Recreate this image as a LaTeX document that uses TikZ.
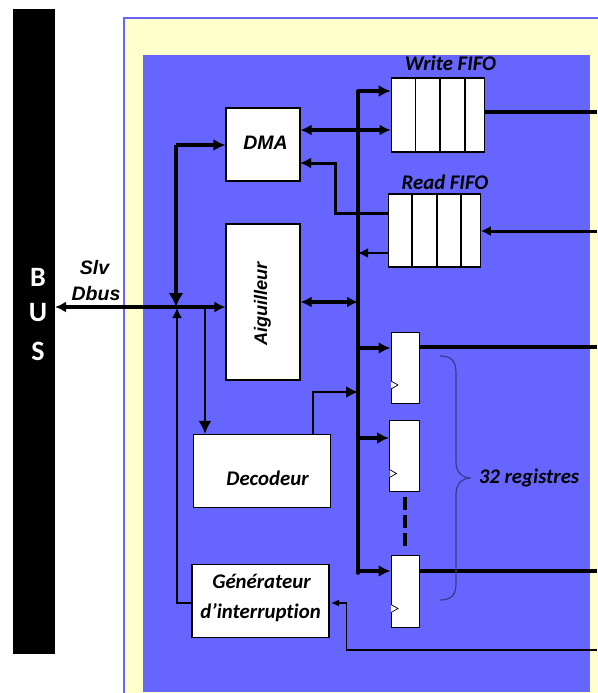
\documentclass[tikz,border=0pt]{standalone}
\usepackage{fontspec}
\setmainfont{Carlito}[Ligatures=NoCommon]
\newfontfamily\arialfont{Liberation Sans}
\usetikzlibrary{arrows.meta}
\definecolor{socblue}{HTML}{6666FF}
\definecolor{socyellow}{HTML}{FFFFCC}
\definecolor{bracegray}{HTML}{3A3A8C}
\tikzset{
  blockbox/.style={draw=black,fill=white,line width=1.1pt,inner sep=0pt,font=\fontsize{20.8}{22}\bfseries\itshape},
  regbox/.style={draw=black,fill=white,line width=0.9pt,inner sep=0pt},
  biglink/.style={line width=3.6pt,-{Latex[length=12pt,width=12pt]}},
  bothlink/.style={line width=3.4pt,{Latex[length=11pt,width=11pt]}-{Latex[length=11pt,width=11pt]}},
  thinlink/.style={line width=1.5pt,-{Latex[length=8pt,width=7pt]}},
  plainlink/.style={line width=3.6pt},
  caption/.style={font=\fontsize{20.8}{22}\bfseries\itshape,inner sep=0pt},
  buslabel/.style={font=\fontsize{28}{28}\bfseries,text=white,inner sep=0pt},
  armlabel/.style={font=\arialfont\fontsize{19.5}{20}\bfseries\itshape,inner sep=0pt},
}
\begin{document}
\begin{tikzpicture}[x=1pt,y=-1pt]
\useasboundingbox (0,0) rectangle (597,693);
% background
\fill[black] (13,9) rectangle (55,654);
\fill[socyellow,draw=socblue,line width=2.5pt] (124,18) rectangle (610,710);
\fill[socblue] (143,55) rectangle (590,692);
\node[buslabel] (busB) at (38,277) {B};
\node[buslabel] (busU) at (38,313) {U};
\node[buslabel] (busS) at (38,351) {S};
% blocks
\node[blockbox,minimum width=74,minimum height=73] (dma) at (263,144.5) {};
\node[armlabel] (dmalab) at (265.5,143) {DMA};
\node[blockbox,minimum width=74,minimum height=156] (aig) at (263,302) {};
\node[armlabel,rotate=90] (aiglab) at (262.5,304) {\fontsize{18.2}{20}\selectfont Aiguilleur};
\node[blockbox,minimum width=93,minimum height=74] (wfifo) at (437.7,115) {};
\node[blockbox,minimum width=92,minimum height=73] (rfifo) at (434.2,230.5) {};
\node[blockbox,minimum width=137,minimum height=73] (dec) at (262.2,471) {};
\node[blockbox,minimum width=137,minimum height=73] (gen) at (260.5,600.7) {};
\node[caption] (declab) at (267.5,478) {Decodeur};
\node[caption] (genlab) at (261.5,581) {Générateur};
\node[caption] (genlabb) at (260.5,613) {d’interruption};
\node[regbox,minimum width=28.5,minimum height=71] (rega) at (405.2,367.5) {};
\node[regbox,minimum width=30,minimum height=71.5] (regb) at (404.5,455.7) {};
\node[regbox,minimum width=28.5,minimum height=72] (regc) at (405.2,591) {};
\foreach \x in {415.5,440,465}{%
  \draw[line width=1.1pt] (\x,78) -- (\x,152);
}
\foreach \x in {412,437,461}{%
  \draw[line width=1.1pt] (\x,194) -- (\x,267);
}
% clock marks
\foreach \y/\xa in {385/391,473.5/389.5,608.5/391}{%
  \draw[line width=0.7pt,fill=white] (\xa,\y-4) -- (\xa+7,\y) -- (\xa,\y+4);
}
% labels
\node[caption] (wlab) at (450.5,63) {Write FIFO};
\node[caption] (rlab) at (445,182) {Read FIFO};
\node[armlabel] (slv) at (94.5,268) {Slv};
\node[armlabel] (dbus) at (96,294) {Dbus};
\node[caption] (reglab) at (529,478) {32 registres};
% trunk and its taps
\coordinate (trunktop) at (358,91);
\coordinate (trunkbot) at (358,573);
\coordinate (tapdma) at (358,130);
\coordinate (tapread) at (358,253);
\coordinate (tapaig) at (358,302);
\coordinate (tapa) at (358,348);
\coordinate (tapdec) at (358,392);
\coordinate (tapb) at (358,438);
\coordinate (tapc) at (358,571);
\coordinate (lefta) at (176,307);
\coordinate (leftb) at (205,307);
\coordinate (buspin) at (55,307);
\draw[line width=3.6pt,line cap=round] (trunktop) -- (trunkbot);
\draw[biglink] (trunktop) -- (trunktop -| wfifo.west);
\draw[bothlink] (tapdma -| dma.east) -- (tapdma -| wfifo.west);
\draw[line width=2.8pt,-{Latex[length=10pt,width=10pt]}] (tapread -| rfifo.west) -- (tapread);
\draw[bothlink] (tapaig -| aig.east) -- (tapaig);
\draw[biglink] (tapa) -- (tapa -| rega.west);
\draw[biglink] (tapb) -- (tapb -| regb.west);
\draw[biglink] (tapc) -- (tapc -| regc.west);
\draw[line width=2.2pt,-{Latex[length=12pt,width=12pt]}] (313,434.5) -- (313,392) -- (tapdec);
\draw[line width=3pt,{Latex[length=11pt,width=11pt]}-] (300,163) -- (335,163) -- (335,213) -- (388,213);
% outputs
\draw[plainlink] (484,112) -- (597,112);
\draw[line width=3pt,-{Latex[length=10pt,width=10pt]}] (597,231) -- (rfifo.east |- 597,231);
\draw[plainlink] (419,347) -- (597,347);
\draw[plainlink] (419,571) -- (597,571);
\draw[line width=3.4pt,dash pattern=on 13pt off 5pt] (405,497) -- (405,548);
% slave bus
\draw[bothlink] (buspin) -- (buspin -| aig.west);
\draw[line width=3.6pt,-{Latex[length=14pt,width=15pt]}] (176,145) -- (lefta);
\draw[biglink] (176,145) -- (176,145 -| dma.west);
\draw[line width=1.6pt,-{Latex[length=10pt,width=10pt]}] (gen.west |- 0,603) -- (177,603) -- (177,308);
\draw[line width=2.6pt,-{Latex[length=13pt,width=13pt]}] (leftb) -- (leftb |- dec.north);
\draw[thinlink] (597,650) -- (346.5,650) -- (346.5,603) -- (331,603);
% brace
\draw[bracegray,line width=1.2pt] (440,356) .. controls (450,356) and (456,360) .. (456,372) -- (456,462) .. controls (456,472) and (462,478) .. (471,478) .. controls (462,478) and (456,484) .. (456,494) -- (456,584) .. controls (456,596) and (450,600) .. (440,600);
\end{tikzpicture}
\end{document}
